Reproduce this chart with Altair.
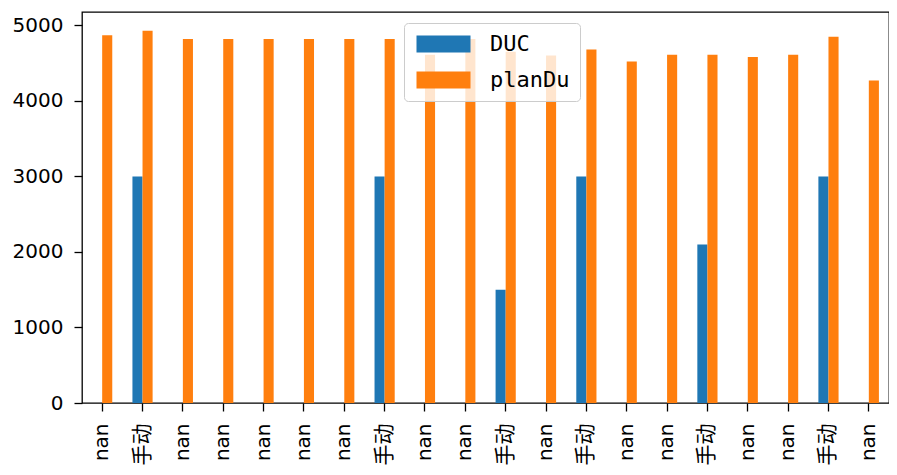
import altair as alt
import pandas as pd

labels = ["nan", "手动", "nan", "nan", "nan", "nan", "nan", "手动", "nan", "nan",
          "手动", "nan", "手动", "nan", "nan", "手动", "nan", "nan", "手动", "nan"]
duc = [None, 3000, None, None, None, None, None, 3000, None, None,
       1500, None, 3000, None, None, 2100, None, None, 3000, None]
plandu = [4870, 4930, 4820, 4820, 4820, 4820, 4820, 4820, 4610, 4820,
          4650, 4600, 4680, 4520, 4610, 4610, 4580, 4610, 4850, 4270]
series = ["DUC", "planDu"]
colors = ["#1f77b4", "#ff7f0e"]
yticks = [0, 1000, 2000, 3000, 4000, 5000]

rows = []
for i in range(len(labels)):
    if duc[i] is not None:
        rows.append({"idx": i, "series": "DUC", "value": duc[i]})
    rows.append({"idx": i, "series": "planDu", "value": plandu[i]})
df = pd.DataFrame(rows)

label_arr = "[" + ",".join("'" + l + "'" for l in labels) + "]"
is_cjk = label_arr + "[datum.value] == '手动'"

font = "DejaVu Sans, Noto Sans CJK SC"

chart = alt.Chart(df).mark_bar().encode(
    x=alt.X("idx:O", title=None,
            scale=alt.Scale(domain=list(range(len(labels))), paddingInner=0.5, paddingOuter=0.25),
            axis=alt.Axis(labelExpr=label_arr + "[datum.value]", labelAngle=270,
                          labelFont=font,
                          labelFontSize={"condition": {"test": is_cjk, "value": 21}, "value": 20},
                          labelColor="black",
                          labelPadding=12, tickSize=8, tickWidth=1.3, tickColor="black",
                          domain=False, grid=False)),
    xOffset=alt.XOffset("series:N", scale=alt.Scale(domain=series, paddingInner=0, paddingOuter=0)),
    y=alt.Y("value:Q", title=None,
            scale=alt.Scale(domain=[0, 5177], nice=False, zero=True),
            axis=alt.Axis(values=yticks, format="d", labelFont=font, labelFontSize=20,
                          labelColor="black",
                          labelPadding=11, tickSize=8, tickWidth=1.3, tickColor="black",
                          domain=False, grid=False)),
    color=alt.Color("series:N",
                    scale=alt.Scale(domain=series, range=colors),
                    legend=alt.Legend(title=None, orient="none", legendX=322, legendY=11,
                                      labelFont="DejaVu Sans Mono, Noto Sans CJK SC", labelFontSize=22,
                                      labelColor="black",
                                      symbolType="M-1,-1H5.353V1H-1Z", symbolSize=289,
                                      symbolStrokeWidth=0, symbolOpacity=1,
                                      labelOffset=54, rowPadding=14, padding=10,
                                      strokeColor="#cccccc", fillColor="rgba(255,255,255,0.8)",
                                      cornerRadius=4)),
).properties(
    width=807, height=391,
    autosize=alt.AutoSizeParams(type="none"),
    padding={"left": 74, "top": 4, "right": 0, "bottom": 64},
).configure_view(stroke="black", strokeWidth=1.3)

chart.save("out.html", embed_options={"renderer": "svg", "actions": False})
